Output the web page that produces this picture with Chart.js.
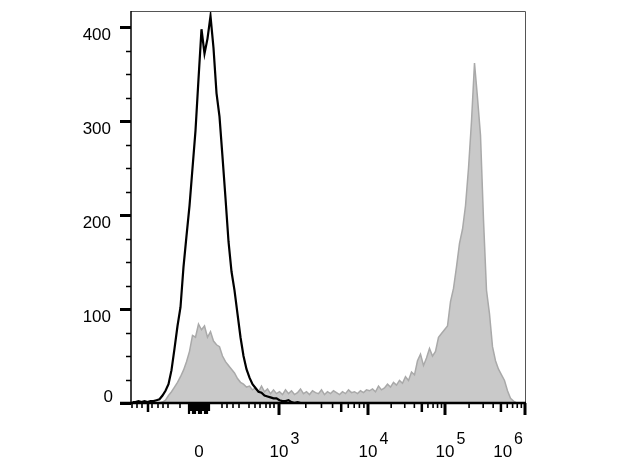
<!DOCTYPE html>
<html>
<head>
<meta charset="utf-8">
<script src="https://cdn.jsdelivr.net/npm/chart.js@4/dist/chart.umd.min.js"></script>
<style>
  body { margin: 0; background: #fff; }
  #wrap { width: 622px; height: 466px; }
</style>
</head>
<body>
<div id="wrap"><canvas id="histo"></canvas></div>
<script>
// x is in display units along the axis (0..394), bins are 3 units wide
const binWidth = 3;

// black line histogram (stained)
const blackCounts = [1, 1, 2, 1, 2, 1, 2, 2, 3, 4, 8, 13, 20, 35, 58, 82, 102, 145, 178, 210,
  250, 290, 345, 398, 372, 388, 412, 378, 330, 305, 262, 218, 172, 140, 120, 95, 70, 50, 36, 27,
  20, 16, 12, 11, 8, 7, 6, 5, 5, 3, 2, 2, 3, 1, 0, 1, 0, 0];

// grey filled histogram
const greyCounts = [0, 0, 0, 0, 0, 0, 0, 0, 0, 0,
  1, 3, 8, 12, 17, 22, 28, 35, 44, 55, 72, 70, 84, 78, 82, 70, 76, 66, 62, 60,
  50, 44, 40, 36, 32, 26, 22, 20, 17, 18, 14, 16, 12, 18, 12, 15, 10, 14, 10,
  12, 9, 14, 10, 13, 9, 11, 15, 10, 12, 9, 13, 11, 10, 14, 9, 12, 10, 13, 11, 9, 12, 10, 14, 11, 12, 10, 13, 11, 14,
  13, 15, 12, 18, 14, 16, 20, 17, 22, 19, 24, 21, 28, 24, 33, 30, 45, 52, 40, 48,
  58, 50, 55, 70, 74, 78, 82, 108, 122, 145, 170, 185, 210, 250, 300, 362, 325, 285, 195, 120,
  95, 60, 45, 36, 30, 24, 13, 5, 2, 0, 0, 0];

// axis labels
const yTickValues = [0, 100, 200, 300, 400];
const yMinorValues = [25, 50, 75, 125, 150, 175, 225, 250, 275, 325, 350, 375];
const xTickLabels = ['0', '10', '10', '10', '10'];
const xTickExponents = ['', '3', '4', '5', '6'];
const xTickPositions = [68, 148, 237, 314, 394];
// small ticks of the negative and linear part around zero
const xLinearTicks = [1, 6, 11, 21, 27, 32, 37, 49, 91, 96, 102, 108, 118, 124, 129, 135, 139, 143];
const xMidTicks = [17];
const xZeroTicks = [58, 60, 62, 64, 66, 68, 70, 72, 74, 76, 78];

const toPoints = (counts) => counts.map((c, i) => ({ x: i * binWidth + binWidth / 2, y: c }));

const FONT = '"Liberation Sans", Arial, sans-serif';

const axesPlugin = {
  id: 'flowAxes',
  afterDraw(chart) {
    const { ctx, chartArea: a, scales: { x, y } } = chart;
    ctx.save();

    // thin frame top and right
    ctx.strokeStyle = '#555';
    ctx.lineWidth = 1;
    ctx.beginPath();
    ctx.moveTo(a.left, a.top + 0.5);
    ctx.lineTo(a.right + 0.5, a.top + 0.5);
    ctx.lineTo(a.right + 0.5, a.bottom);
    ctx.stroke();

    // axis lines
    ctx.strokeStyle = '#000';
    ctx.lineWidth = 1.5;
    ctx.beginPath();
    ctx.moveTo(a.left, a.top);
    ctx.lineTo(a.left, a.bottom);
    ctx.stroke();
    ctx.lineWidth = 2.5;
    ctx.beginPath();
    ctx.moveTo(a.left - 11, a.bottom);
    ctx.lineTo(a.right + 1, a.bottom);
    ctx.stroke();

    // y ticks
    yTickValues.forEach(v => {
      const py = Math.round(y.getPixelForValue(v)) + 0.5;
      ctx.lineWidth = 3;
      ctx.beginPath();
      ctx.moveTo(a.left - 11, py);
      ctx.lineTo(a.left, py);
      ctx.stroke();
    });
    ctx.lineWidth = 1.5;
    yMinorValues.forEach(v => {
      const py = Math.round(y.getPixelForValue(v)) + 0.5;
      ctx.beginPath();
      ctx.moveTo(a.left - 5, py);
      ctx.lineTo(a.left, py);
      ctx.stroke();
    });

    // y labels
    ctx.fillStyle = '#000';
    ctx.font = '17px ' + FONT;
    ctx.textAlign = 'right';
    ctx.textBaseline = 'middle';
    yTickValues.forEach(v => {
      const py = y.getPixelForValue(v);
      ctx.fillText(String(v), v === 0 ? 113 : 111, v === 0 ? py - 6 : py + 8);
    });

    // x ticks
    const tick = (pos, len, w) => {
      const px = x.getPixelForValue(pos);
      ctx.lineWidth = w;
      ctx.beginPath();
      ctx.moveTo(px, a.bottom);
      ctx.lineTo(px, a.bottom + len);
      ctx.stroke();
    };
    xLinearTicks.forEach(p => tick(p, 5, 1.6));
    xMidTicks.forEach(p => tick(p, 9, 2.5));
    xZeroTicks.forEach((p, i) => tick(p, i % 3 === 1 ? 8 : 11, 2.2));
    xTickPositions.slice(1).forEach((p, i) => {
      tick(p, 12, 3);
      const next = xTickPositions[i + 2];
      if (next === undefined) return;
      for (let m = 2; m <= 9; m++) {
        const pos = p + (next - p) * Math.log10(m);
        tick(pos, m === 5 ? 9 : 5, m === 5 ? 2.5 : 1.6);
      }
    });

    // x labels with superscript exponents
    ctx.textBaseline = 'alphabetic';
    ctx.textAlign = 'left';
    xTickLabels.forEach((lab, i) => {
      const px = x.getPixelForValue(xTickPositions[i]);
      const exp = xTickExponents[i];
      ctx.font = '17px ' + FONT;
      const wBase = ctx.measureText(lab).width;
      ctx.font = '16px ' + FONT;
      const wExp = exp ? ctx.measureText(exp).width + 2 : 0;
      let left = px - wBase / 2;
      if (i === xTickLabels.length - 1) left = px - 2 - wBase - wExp;
      ctx.font = '17px ' + FONT;
      ctx.fillText(lab, left, 457);
      if (exp) {
        ctx.font = '16px ' + FONT;
        ctx.fillText(exp, left + wBase + 2, 444);
      }
    });

    ctx.restore();
  }
};

new Chart(document.getElementById('histo').getContext('2d'), {
  type: 'line',
  data: {
    datasets: [
      {
        label: 'stained',
        data: toPoints(blackCounts),
        borderColor: '#000',
        borderWidth: 2.2,
        pointRadius: 0,
        fill: false,
        tension: 0,
        order: 0,
      },
      {
        label: 'control',
        data: toPoints(greyCounts),
        borderColor: '#a9a9a9',
        backgroundColor: '#c9c9c9',
        borderWidth: 1.5,
        pointRadius: 0,
        fill: 'origin',
        tension: 0,
        order: 1,
      },
    ],
  },
  options: {
    responsive: true,
    maintainAspectRatio: false,
    animation: false,
    layout: { padding: { left: 131, right: 97, top: 11, bottom: 63 } },
    plugins: { legend: { display: false }, tooltip: { enabled: false } },
    scales: {
      x: { type: 'linear', min: 0, max: 394, display: false },
      y: { min: 0, max: 417.4, display: false },
    },
  },
  plugins: [axesPlugin],
});
</script>
</body>
</html>
